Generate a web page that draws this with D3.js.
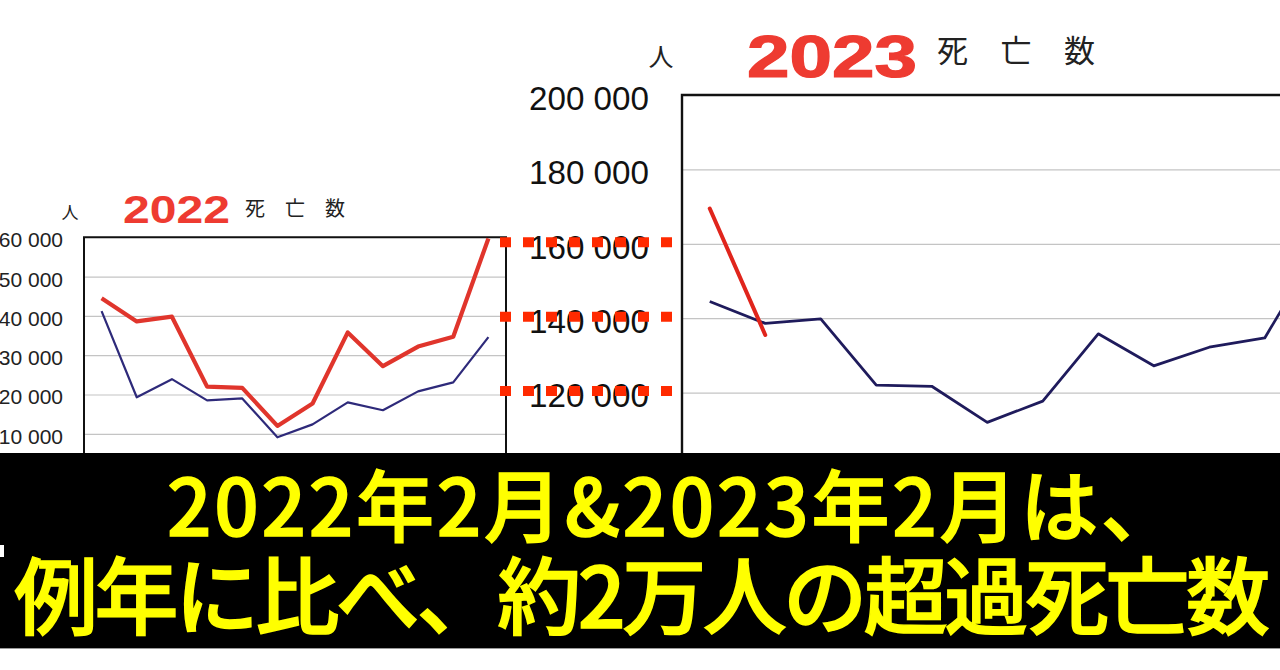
<!DOCTYPE html>
<html>
<head>
<meta charset="utf-8">
<script src="https://cdn.jsdelivr.net/npm/d3@7"></script>
<style>
  html, body { margin: 0; padding: 0; background: #fff; }
  svg { display: block; }
</style>
</head>
<body>
<div id="chart"></div>
<script>
const width = 1280;
const height = 670;

// data
const months = [1, 2, 3, 4, 5, 6, 7, 8, 9, 10, 11, 12];
const deaths2022 = [144500, 138600, 139800, 122000, 121700, 112000, 117700, 135800, 127200, 132200, 134700, 159700];
const deathsAvg = [141200, 119300, 123900, 118500, 119000, 109100, 112400, 118000, 116000, 120800, 123100, 134600];
const deaths2023 = [169500, 135500];
const leftTicks = [110000, 120000, 130000, 140000, 150000, 160000];
const rightTicks = [120000, 140000, 160000, 180000, 200000];
const markTicks = [160000, 140000, 120000];
const captionLines = ['2022年2月&2023年2月は、', '例年に比べ、約2万人の超過死亡数'];

const fmt = d3.formatLocale({ decimal: '.', thousands: ' ', grouping: [3], currency: ['', ''] }).format(',');

const svg = d3.select('#chart').append('svg').attr('width', width).attr('height', height);
svg.append('rect').attr('width', width).attr('height', height).attr('fill', '#fff');

const bandTop = 453;

// ---------- left chart (2022) ----------
const xL = d3.scalePoint().domain(months).range([84, 506]).padding(0.5);
const yL = d3.scaleLinear().domain([100000, 160000]).range([473.1, 237.3]);

const left = svg.append('g');

left.append('g')
  .attr('transform', 'translate(84,0)')
  .call(d3.axisLeft(yL).tickValues(leftTicks.filter(d => d < 160000)).tickSize(-(506 - 84)).tickFormat(''))
  .call(g => g.select('.domain').remove())
  .call(g => g.selectAll('line').attr('stroke', '#c4c4c4').attr('stroke-width', 1.2));

left.append('g')
  .attr('transform', 'translate(63,0)')
  .call(d3.axisLeft(yL).tickValues(leftTicks).tickSize(0).tickPadding(0).tickFormat(fmt))
  .call(g => g.select('.domain').remove())
  .call(g => g.selectAll('text')
    .attr('dy', '0.45em')
    .attr('fill', '#222')
    .style('font-family', '"Liberation Sans", Arial, sans-serif')
    .style('font-size', '21px'));

left.append('path')
  .attr('d', `M84,${bandTop}V237.3H506V${bandTop}`)
  .attr('fill', 'none').attr('stroke', '#111').attr('stroke-width', 2);

const lineL = d3.line().x((d, i) => xL(months[i])).y(d => yL(d));

left.append('path').datum(deathsAvg)
  .attr('d', lineL).attr('fill', 'none')
  .attr('stroke', '#2e2a7a').attr('stroke-width', 2.2).attr('stroke-linejoin', 'round');

left.append('path').datum(deaths2022)
  .attr('d', lineL).attr('fill', 'none')
  .attr('stroke', '#e0352c').attr('stroke-width', 4.2).attr('stroke-linejoin', 'round');

left.append('text').attr('x', 70).attr('y', 219).attr('text-anchor', 'middle')
  .style('font-family', '"Noto Sans CJK JP", sans-serif').style('font-size', '17px').attr('fill', '#222')
  .text('人');
left.append('text').attr('x', 123).attr('y', 223)
  .attr('textLength', 107).attr('lengthAdjust', 'spacingAndGlyphs')
  .style('font-family', '"Liberation Sans", Arial, sans-serif').style('font-size', '39px').style('font-weight', 'bold')
  .attr('fill', '#ee3b31').text('2022');
left.append('text').attr('x', 245).attr('y', 216)
  .attr('textLength', 100).attr('lengthAdjust', 'spacing')
  .style('font-family', '"Noto Sans CJK JP", sans-serif').style('font-size', '20px').attr('fill', '#222')
  .text('死亡数');

// ---------- right chart (2023) ----------
const xR = d3.scalePoint().domain(months).range([682, 682 + 12 * 55.5]).padding(0.5);
const yR = d3.scaleLinear().domain([100000, 200000]).range([467, 95]);

const right = svg.append('g');

right.append('g')
  .attr('transform', 'translate(682,0)')
  .call(d3.axisLeft(yR).tickValues(rightTicks.filter(d => d < 200000)).tickSize(-700).tickFormat(''))
  .call(g => g.select('.domain').remove())
  .call(g => g.selectAll('line').attr('stroke', '#c4c4c4').attr('stroke-width', 1.2));

right.append('g')
  .attr('transform', 'translate(649,0)')
  .call(d3.axisLeft(yR).tickValues(rightTicks).tickSize(0).tickPadding(0).tickFormat(fmt))
  .call(g => g.select('.domain').remove())
  .call(g => g.selectAll('text')
    .attr('dy', '0.42em')
    .attr('fill', '#111')
    .attr('textLength', 120)
    .attr('lengthAdjust', 'spacingAndGlyphs')
    .style('font-family', '"Liberation Sans", Arial, sans-serif')
    .style('font-size', '34px'));

right.append('path')
  .attr('d', `M682,${bandTop}V95H1290`)
  .attr('fill', 'none').attr('stroke', '#111').attr('stroke-width', 2.4);

const lineR = d3.line().x((d, i) => xR(months[i])).y(d => yR(d));

right.append('path').datum(deaths2022)
  .attr('d', lineR).attr('fill', 'none')
  .attr('stroke', '#1f1b5c').attr('stroke-width', 2.8).attr('stroke-linejoin', 'round');

right.append('path').datum(deaths2023)
  .attr('d', lineR).attr('fill', 'none')
  .attr('stroke', '#e0251c').attr('stroke-width', 4).attr('stroke-linecap', 'round');

right.append('text').attr('x', 661).attr('y', 66).attr('text-anchor', 'middle')
  .style('font-family', '"Noto Sans CJK JP", sans-serif').style('font-size', '25px').attr('fill', '#222')
  .text('人');
right.append('text').attr('x', 747).attr('y', 77)
  .attr('textLength', 170).attr('lengthAdjust', 'spacingAndGlyphs')
  .style('font-family', '"Liberation Sans", Arial, sans-serif').style('font-size', '59px').style('font-weight', 'bold')
  .attr('fill', '#ee3b31').attr('stroke', '#ee3b31').attr('stroke-width', 1.2)
  .text('2023');
right.append('text').attr('x', 937).attr('y', 62)
  .attr('textLength', 158).attr('lengthAdjust', 'spacing')
  .style('font-family', '"Noto Sans CJK JP", sans-serif').style('font-size', '31px').attr('fill', '#222')
  .text('死亡数');

// ---------- red dotted guides ----------
svg.append('g').selectAll('line')
  .data(markTicks)
  .join('line')
  .attr('x1', 500).attr('x2', 684)
  .attr('y1', d => yR(d) - 1.5).attr('y2', d => yR(d) - 1.5)
  .attr('stroke', '#ff2a00').attr('stroke-width', 10)
  .attr('stroke-dasharray', '11 12');

// ---------- caption band ----------
svg.append('rect').attr('x', 0).attr('y', bandTop).attr('width', width).attr('height', 195).attr('fill', '#000');
svg.append('line').attr('x1', 0).attr('x2', width).attr('y1', 648.5).attr('y2', 648.5)
  .attr('stroke', '#9a9a9a').attr('stroke-width', 1);
svg.append('rect').attr('x', 0).attr('y', 545).attr('width', 4).attr('height', 12).attr('fill', '#fff');

const captionPos = [
  { x: 167, y: 536, size: 78, len: 1012 },
  { x: 14, y: 628, size: 84, len: 1256 }
];

svg.append('g').selectAll('text')
  .data(captionLines)
  .join('text')
  .attr('x', (d, i) => captionPos[i].x)
  .attr('y', (d, i) => captionPos[i].y)
  .attr('textLength', (d, i) => captionPos[i].len)
  .attr('lengthAdjust', 'spacing')
  .style('font-family', '"Noto Sans CJK JP", sans-serif')
  .style('font-weight', 500)
  .style('font-size', (d, i) => captionPos[i].size + 'px')
  .attr('fill', '#ffff00')
  .attr('stroke', '#ffff00')
  .attr('stroke-width', 1.5)
  .text(d => d);
</script>
</body>
</html>
